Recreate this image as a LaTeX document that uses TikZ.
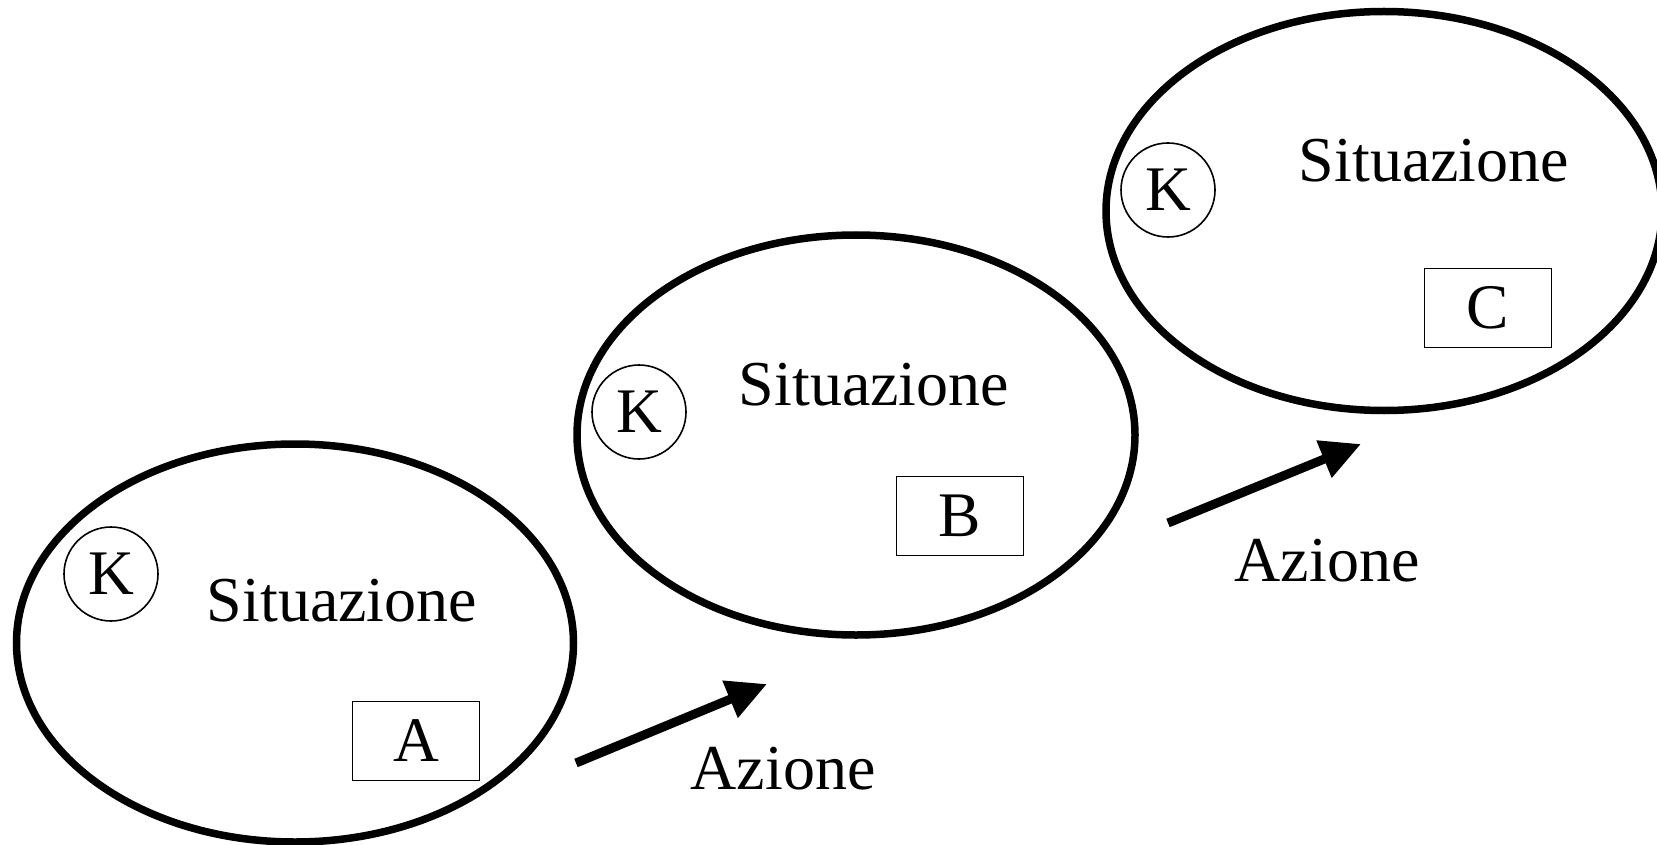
\documentclass[tikz,border=0pt]{standalone}
\usepackage{fontspec}
\setmainfont{Liberation Serif}
\usetikzlibrary{shapes.geometric,arrows.meta}
\begin{document}
\begin{tikzpicture}[x=1pt,y=-1pt,
  situ/.style={ellipse,draw,line width=7.5pt,inner sep=0pt},
  kcirc/.style={circle,draw,line width=1.6pt,minimum size=94pt,inner sep=0pt,font=\fontsize{63.5}{70}\selectfont},
  actbox/.style={rectangle,draw,line width=1.6pt,minimum width=127pt,minimum height=79pt,inner sep=0pt,font=\fontsize{63.5}{70}\selectfont},
  lbl/.style={anchor=base,inner sep=0pt,font=\fontsize{64}{70}\selectfont},
  act/.style={line width=9pt,-{Triangle[length=40pt,width=38pt]}}]
\useasboundingbox (0,0) rectangle (1657,845);
% situations
\node[situ,minimum width=557pt,minimum height=398pt] (e1) at (295,643) {};
\node[situ,minimum width=558pt,minimum height=400pt] (e2) at (856,435) {};
\node[situ,minimum width=556pt,minimum height=399pt] (e3) at (1384,211) {};
% K circles
\node[kcirc] (k1) at (111,574) {K};
\node[kcirc] (k2) at (639,412) {K};
\node[kcirc] (k3) at (1168,190) {K};
% labels
\node[lbl] (s1) at (342,621) {Situazione};
\node[lbl] (s2) at (874,405) {Situazione};
\node[lbl] (s3) at (1434,182) {Situazione};
% boxes
\node[actbox] (bA) at (416,741) {A};
\node[actbox] (bB) at (960,516) {B};
\node[actbox] (bC) at (1488,308) {C};
% actions
\coordinate (a1s) at (576,763);
\coordinate (a1e) at (767,684);
\coordinate (a2s) at (1168,523);
\coordinate (a2e) at (1361,444);
\draw[act] (a1s) -- (a1e);
\draw[act] (a2s) -- (a2e);
\node[lbl] (z1) at (783,789) {Azione};
\node[lbl] (z2) at (1327,581) {Azione};
\end{tikzpicture}
\end{document}
